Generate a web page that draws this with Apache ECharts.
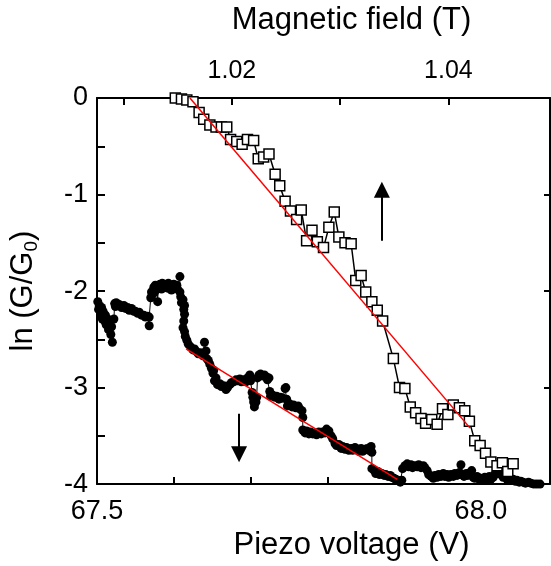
<!DOCTYPE html>
<html><head><meta charset="utf-8">
<script src="https://cdn.jsdelivr.net/npm/echarts@6/dist/echarts.min.js"></script>
<style>html,body{margin:0;padding:0;background:#fff}#c{width:551px;height:566px}</style>
</head><body><div id="c"></div>
<script>
// Upward sweep (open squares)
const upV = [67.602, 67.610, 67.617, 67.625, 67.633, 67.639, 67.647, 67.655, 67.662, 67.669, 67.674, 67.682, 67.689, 67.696, 67.704, 67.710, 67.717, 67.724, 67.732, 67.738, 67.745, 67.752, 67.760, 67.766, 67.773, 67.780, 67.787, 67.795, 67.802, 67.809, 67.815, 67.823, 67.831, 67.837, 67.844, 67.850, 67.858, 67.865, 67.872, 67.886, 67.894, 67.901, 67.908, 67.915, 67.922, 67.928, 67.936, 67.943, 67.950, 67.957, 67.964, 67.972, 67.979, 67.985, 67.992, 67.999, 68.006, 68.013, 68.021, 68.028, 68.035, 68.042];
const upLn = [0.00, -0.01, -0.02, -0.04, -0.15, -0.22, -0.28, -0.30, -0.30, -0.30, -0.43, -0.45, -0.48, -0.43, -0.44, -0.63, -0.61, -0.58, -0.79, -0.91, -1.07, -1.17, -1.26, -1.16, -1.48, -1.37, -1.49, -1.55, -1.34, -1.18, -1.44, -1.50, -1.51, -1.89, -1.84, -2.01, -2.11, -2.20, -2.31, -2.70, -3.00, -3.01, -3.20, -3.26, -3.32, -3.37, -3.33, -3.38, -3.22, -3.28, -3.18, -3.21, -3.24, -3.35, -3.55, -3.60, -3.68, -3.77, -3.81, -3.78, -3.87, -3.79];

// Downward sweep (filled circles)
const downV = [67.501,67.502,67.503,67.505,67.506,67.507,67.508,67.510,67.511,67.512,67.514,67.515,67.516,67.518,67.519,67.520,67.522,67.523,67.524,67.525,67.527,67.529,67.532,67.535,67.537,67.540,67.542,67.545,67.548,67.550,67.553,67.555,67.558,67.561,67.563,67.566,67.568,67.568,67.570,67.571,67.572,67.574,67.575,67.576,67.578,67.579,67.580,67.582,67.584,67.585,67.588,67.589,67.592,67.593,67.596,67.597,67.600,67.601,67.604,67.605,67.608,67.608,67.609,67.610,67.612,67.613,67.614,67.614,67.613,67.612,67.614,67.615,67.617,67.619,67.622,67.625,67.627,67.630,67.632,67.635,67.638,67.640,67.642,67.643,67.645,67.647,67.649,67.651,67.652,67.653,67.655,67.657,67.660,67.662,67.665,67.668,67.670,67.673,67.675,67.678,67.681,67.683,67.686,67.688,67.691,67.694,67.696,67.699,67.700,67.702,67.703,67.704,67.705,67.707,67.708,67.709,67.711,67.713,67.716,67.718,67.721,67.722,67.724,67.725,67.726,67.729,67.732,67.734,67.737,67.739,67.742,67.745,67.746,67.747,67.748,67.751,67.754,67.756,67.759,67.762,67.764,67.767,67.768,67.768,67.771,67.773,67.776,67.778,67.781,67.784,67.786,67.789,67.792,67.794,67.797,67.799,67.802,67.805,67.807,67.810,67.812,67.815,67.818,67.820,67.823,67.825,67.828,67.831,67.833,67.836,67.838,67.841,67.844,67.846,67.849,67.852,67.854,67.857,67.858,67.858,67.861,67.863,67.866,67.868,67.871,67.874,67.876,67.879,67.882,67.884,67.887,67.889,67.892,67.895,67.897,67.898,67.901,67.904,67.906,67.909,67.911,67.914,67.917,67.919,67.922,67.925,67.927,67.930,67.932,67.935,67.938,67.940,67.943,67.945,67.948,67.951,67.953,67.956,67.958,67.961,67.964,67.966,67.969,67.972,67.974,67.975,67.978,67.981,67.983,67.986,67.988,67.990,67.992,67.995,67.998,68.000,68.003,68.005,68.008,68.011,68.013,68.016,68.018,68.021,68.024,68.026,68.029,68.032,68.034,68.037,68.039,68.042,68.045,68.047,68.050,68.052,68.055,68.058,68.062,68.065,68.069,68.073,68.077];
const downLn = [-2.11,-2.19,-2.15,-2.24,-2.17,-2.29,-2.21,-2.31,-2.25,-2.35,-2.29,-2.40,-2.34,-2.45,-2.37,-2.53,-2.29,-2.13,-2.16,-2.12,-2.15,-2.14,-2.17,-2.15,-2.18,-2.17,-2.20,-2.18,-2.21,-2.21,-2.23,-2.22,-2.25,-2.25,-2.27,-2.26,-2.36,-2.27,-2.07,-2.01,-2.04,-1.96,-2.01,-1.94,-1.98,-2.11,-1.95,-1.93,-1.98,-1.92,-1.96,-1.93,-1.97,-1.92,-1.94,-1.99,-1.93,-1.96,-1.94,-1.98,-1.85,-2.01,-2.06,-2.12,-2.09,-2.19,-2.15,-2.24,-2.31,-2.38,-2.42,-2.47,-2.51,-2.55,-2.58,-2.61,-2.60,-2.63,-2.65,-2.64,-2.67,-2.53,-2.62,-2.70,-2.72,-2.76,-2.80,-2.85,-2.82,-2.93,-2.90,-2.97,-2.96,-2.99,-2.98,-3.02,-3.00,-2.97,-2.95,-2.94,-2.92,-2.93,-2.91,-2.94,-2.92,-2.94,-2.90,-2.87,-2.93,-3.05,-3.10,-3.15,-3.20,-3.15,-3.10,-2.90,-2.87,-2.86,-2.88,-2.87,-2.89,-2.92,-2.90,-3.04,-3.09,-3.08,-3.10,-3.09,-3.12,-3.10,-3.11,-3.01,-3.00,-3.12,-3.19,-3.17,-3.20,-3.18,-3.21,-3.19,-3.22,-3.24,-3.31,-3.44,-3.47,-3.45,-3.48,-3.46,-3.48,-3.47,-3.49,-3.46,-3.48,-3.46,-3.47,-3.43,-3.45,-3.50,-3.53,-3.58,-3.60,-3.59,-3.63,-3.61,-3.64,-3.62,-3.65,-3.63,-3.65,-3.62,-3.64,-3.66,-3.63,-3.66,-3.64,-3.63,-3.65,-3.61,-3.67,-3.84,-3.86,-3.89,-3.87,-3.90,-3.89,-3.91,-3.90,-3.92,-3.91,-3.93,-3.94,-3.95,-3.96,-3.98,-3.96,-3.84,-3.81,-3.79,-3.82,-3.80,-3.83,-3.81,-3.82,-3.80,-3.83,-3.81,-3.83,-3.86,-3.90,-3.92,-3.94,-3.91,-3.93,-3.90,-3.92,-3.89,-3.92,-3.90,-3.93,-3.90,-3.92,-3.89,-3.91,-3.88,-3.80,-3.90,-3.92,-3.89,-3.91,-3.88,-3.86,-3.93,-3.94,-3.92,-3.95,-3.94,-3.96,-3.93,-3.95,-3.92,-3.95,-3.93,-3.90,-3.83,-3.86,-3.90,-3.93,-3.92,-3.95,-3.94,-3.96,-3.95,-3.97,-3.96,-3.98,-3.97,-3.98,-3.99,-3.98,-3.99,-4.00,-4.00,-4.00];

// Linear fits (red)
const fitUpV = [67.621, 67.986];
const fitUpLn = [0.00, -3.42];
const fitDownV = [67.616, 67.891];
const fitDownLn = [-2.60, -3.95];

// Sweep direction arrows
const arrowUpV = [67.871, 67.871];
const arrowUpLn = [-1.48, -0.95];
const arrowDownV = [67.685, 67.685];
const arrowDownLn = [-3.27, -3.69];

// Axes
const voltRange = [67.5, 68.09];
const voltTicks = [67.5, 67.6, 67.7, 67.8, 67.9, 68.0];
const voltLabels = [67.5, 68.0];
const fieldRange = [1.00754, 1.04939];
const fieldTicks = [1.01, 1.02, 1.03, 1.04];
const fieldLabels = [1.02, 1.04];
const lnRange = [-4, 0];
const lnTicks = [0, -0.5, -1, -1.5, -2, -2.5, -3, -3.5, -4];
const lnLabels = [0, -1, -2, -3, -4];
const lnRightTicks = [-1, -2, -3];

const FONT = 'Liberation Sans, Arial, sans-serif';
const zip = (a, b) => a.map((v, i) => [v, b[i]]);

const chart = echarts.init(document.getElementById('c'), null, {renderer: 'canvas'});
const axisLine = {show: true, onZero: false, lineStyle: {color: '#000', width: 2}};
const tickStyle = {color: '#000', width: 2};
chart.setOption({
  animation: false,
  backgroundColor: '#fff',
  grid: {left: 97, right: 1, top: 95, bottom: 78},
  xAxis: [{
    type: 'value', position: 'bottom', min: voltRange[0], max: voltRange[1],
    axisLine: axisLine,
    axisTick: {show: true, inside: true, length: 7, customValues: voltTicks, lineStyle: tickStyle},
    axisLabel: {customValues: voltLabels, formatter: v => v.toFixed(1), fontSize: 27, color: '#000', fontFamily: FONT, margin: 14},
    splitLine: {show: false},
    name: 'Piezo voltage (V)', nameLocation: 'middle', nameGap: 43,
    nameTextStyle: {fontSize: 31, color: '#000', fontFamily: FONT, padding: [0, 0, 0, 56]}
  }, {
    type: 'value', position: 'top', min: fieldRange[0], max: fieldRange[1],
    axisLine: axisLine,
    axisTick: {show: true, inside: true, length: 7, customValues: fieldTicks, lineStyle: tickStyle},
    axisLabel: {customValues: fieldLabels, formatter: v => v.toFixed(2), fontSize: 25, color: '#000', fontFamily: FONT, margin: 14},
    splitLine: {show: false},
    name: 'Magnetic field (T)', nameLocation: 'middle', nameGap: 62,
    nameTextStyle: {fontSize: 31, color: '#000', fontFamily: FONT, padding: [0, 0, 0, 56]}
  }],
  yAxis: [{
    type: 'value', position: 'left', min: lnRange[0], max: lnRange[1],
    axisLine: axisLine,
    axisTick: {show: true, inside: true, length: 8, customValues: lnTicks, lineStyle: tickStyle},
    axisLabel: {customValues: lnLabels, formatter: v => String(v), fontSize: 27, color: '#000', fontFamily: FONT, margin: 9},
    splitLine: {show: false},
    name: '{a|ln (G/G}{s|0}{a|)}', nameLocation: 'middle', nameGap: 56,
    nameTextStyle: {
      color: '#000', fontFamily: FONT,
      rich: {
        a: {fontSize: 31, color: '#000', fontFamily: FONT},
        s: {fontSize: 19, color: '#000', fontFamily: FONT, padding: [16, 0, 0, 0]}
      }
    }
  }, {
    type: 'value', position: 'right', min: lnRange[0], max: lnRange[1],
    axisLine: axisLine,
    axisTick: {show: true, inside: true, length: 6, customValues: lnRightTicks, lineStyle: tickStyle},
    axisLabel: {show: false},
    splitLine: {show: false}
  }],
  series: [{
    type: 'line', name: 'down', xAxisIndex: 0, yAxisIndex: 0,
    data: zip(downV, downLn),
    symbol: 'circle', symbolSize: 9, showAllSymbol: true,
    itemStyle: {color: '#000'},
    lineStyle: {color: '#000', width: 1},
    z: 2
  }, {
    type: 'line', name: 'up', xAxisIndex: 0, yAxisIndex: 0,
    data: zip(upV, upLn),
    symbol: 'rect', symbolSize: 10, showAllSymbol: true,
    itemStyle: {color: '#fff', borderColor: '#000', borderWidth: 1.5},
    lineStyle: {color: '#000', width: 1.5},
    z: 3
  }, {
    type: 'line', name: 'fitUp', xAxisIndex: 0, yAxisIndex: 0,
    data: zip(fitUpV, fitUpLn), symbol: 'none',
    lineStyle: {color: '#ff0000', width: 1.5}, z: 4
  }, {
    type: 'line', name: 'fitDown', xAxisIndex: 0, yAxisIndex: 0,
    data: zip(fitDownV, fitDownLn), symbol: 'none',
    lineStyle: {color: '#ff0000', width: 1.5}, z: 4
  }, {
    type: 'lines', coordinateSystem: 'cartesian2d', xAxisIndex: 0, yAxisIndex: 0,
    symbol: ['none', 'triangle'], symbolSize: [12, 16],
    lineStyle: {color: '#000', width: 2, opacity: 1},
    itemStyle: {color: '#000'},
    data: [
      {coords: zip(arrowUpV, arrowUpLn)},
      {coords: zip(arrowDownV, arrowDownLn)}
    ],
    z: 5
  }]
});
</script>
</body></html>
